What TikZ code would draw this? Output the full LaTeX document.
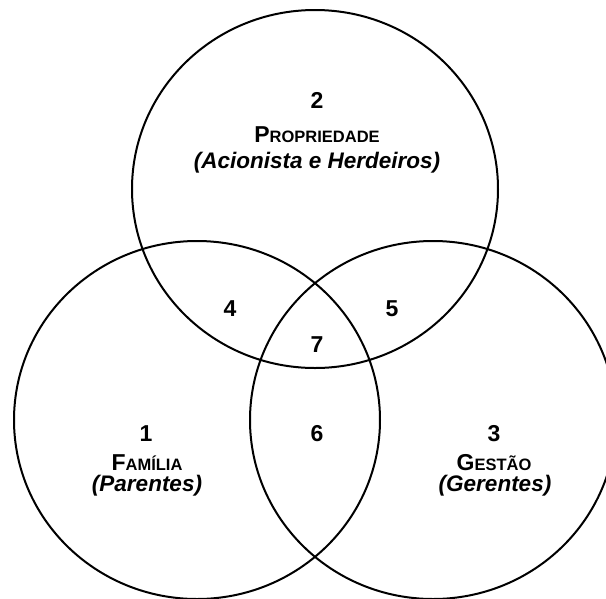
\documentclass[tikz,border=0pt]{standalone}
\usepackage{fontspec}
\setmainfont{Liberation Sans}
\newcommand{\fakesc}[2]{{\fontsize{23}{23}\selectfont #1}{\fontsize{16.5}{16.5}\selectfont #2}}
\begin{document}
\begin{tikzpicture}[x=1pt,y=-1pt,
  ring/.style={draw=black,line width=2pt},
  num/.style={anchor=base,inner sep=0pt,font=\bfseries\fontsize{23}{23}\selectfont},
  title/.style={anchor=base,inner sep=0pt,text depth=0pt,font=\bfseries},
  sub/.style={anchor=base,inner sep=0pt,text height=14pt,font=\bfseries\itshape\fontsize{22.5}{22.5}\selectfont}]
\fill[white] (0,0) rectangle (606,598);
\clip (0,0) rectangle (606,598);
% circles
\draw[ring] (315,189) ellipse [x radius=183pt, y radius=179pt];
\draw[ring] (197,420) ellipse [x radius=183pt, y radius=179pt];
\draw[ring] (433,420) ellipse [x radius=183pt, y radius=179pt];
% top
\node[num] (n2) at (317,108) {2};
\node[title] (t2) at (317,142) {\fakesc{P}{ROPRIEDADE}};
\node[sub] (s2) at (317,168) {(Acionista e Herdeiros)};
% left
\node[num] (n1) at (146,441) {1};
\node[title] (t1) at (147,470) {\fakesc{F}{AMÍLIA}};
\node[sub] (s1) at (147,491) {(Parentes)};
% right
\node[num] (n3) at (494,441) {3};
\node[title] (t3) at (494,470) {\fakesc{G}{ESTÃO}};
\node[sub] (s3) at (495,491) {(Gerentes)};
% overlaps
\node[num] (n4) at (230,316) {4};
\node[num] (n5) at (392,316) {5};
\node[num] (n7) at (317,352) {7};
\node[num] (n6) at (317,441) {6};
\end{tikzpicture}
\end{document}
